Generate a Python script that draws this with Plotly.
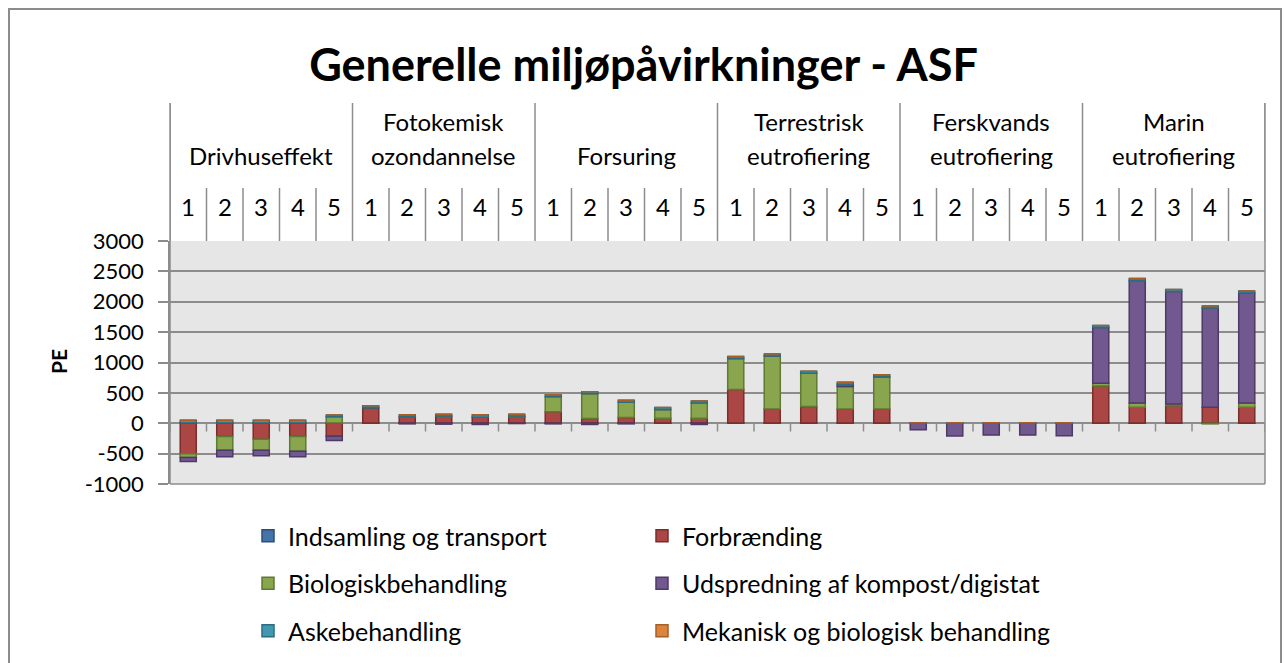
import plotly.graph_objects as go

# ---------------- data ----------------
groups = ["Drivhuseffekt", "Fotokemisk<br>ozondannelse", "Forsuring",
          "Terrestrisk<br>eutrofiering", "Ferskvands<br>eutrofiering", "Marin<br>eutrofiering"]
scenarios = ["1", "2", "3", "4", "5"]

indsamling = [5, 5, 5, 5, 5,   5, 5, 5, 5, 5,   5, 5, 5, 5, 5,
              5, 5, 5, 5, 5,   0, 0, 0, 0, 0,   5, 5, 5, 5, 5]
forbraending = [-500, -220, -265, -220, -215,   250, 100, 115, 95, 100,
                185, 75, 88, 77, 77,            549, 230, 269, 230, 230,
                0, 0, 0, 0, 0,                  609, 258, 285, 258, 258]
biologisk = [-65, -225, -180, -240, 100,   0, 0, 0, 0, 15,
             245, 405, 253, 143, 253,      510, 873, 549, 368, 532,
             0, 0, 0, 0, 0,                44, 71, 27, -10, 71]
udspredning = [-65, -105, -90, -90, -70,   0, -10, -15, -20, -5,
               -10, -20, -10, 0, -20,      0, 0, 0, 38, 0,
               -105, -210, -195, -195, -205, 917, 2015, 1850, 1636, 1812]
askebehandling = [45, 45, 45, 45, 30,   35, 35, 30, 40, 30,
                  33, 33, 33, 33, 33,   33, 33, 33, 33, 33,
                  8, 8, 8, 8, 8,        33, 33, 33, 33, 33]
mekanisk = [0] * 30

series = [
    ("Indsamling og transport", indsamling, "#4572A7", "#2E4E78"),
    ("Forbrænding", forbraending, "#AA4643", "#7A2E2C"),
    ("Biologiskbehandling", biologisk, "#89A54E", "#5F7A32"),
    ("Udspredning af kompost/digistat", udspredning, "#71588F", "#4D3A66"),
    ("Askebehandling", askebehandling, "#4198AF", "#2B6D80"),
    ("Mekanisk og biologisk behandling", mekanisk, "#DB843D", "#A85E25"),
]
y_ticks = [-1000, -500, 0, 500, 1000, 1500, 2000, 2500, 3000]
y_tick_labels = ["-1000", "-500", "0", "500", "1000", "1500", "2000", "2500", "3000"]

# ---------------- geometry helpers ----------------
W, H = 1287, 663
L, R, T, B = 170, 1265, 241, 484
n = len(groups) * len(scenarios)
xs = list(range(n))
FONT = "Lato"
GRID = "#8C8C8C"
HDR = 24


def py(p):  # pixel y -> paper y
    return (B - p) / (B - T)


def px(p):  # pixel x -> paper x
    return (p - L) / (R - L)


fig = go.Figure()
for i, (name, vals, col, lcol) in enumerate(series):
    fig.add_trace(go.Bar(
        x=xs, y=vals, name=name,
        marker=dict(color=col, line=dict(color=lcol, width=1.5)),
        width=0.44,
        legend="legend" if i % 2 == 0 else "legend2",
        legendgroup=name,
    ))

shapes = []
ann = []
# header separators
for k in range(n + 1):
    xb = k - 0.5
    y_top = py(103) if k % 5 == 0 else py(188)
    shapes.append(dict(type="line", xref="x", yref="paper", x0=xb, x1=xb,
                       y0=1, y1=y_top, line=dict(color=GRID, width=1.5)))
# zero-line tick marks
for k in range(n + 1):
    xb = k - 0.5
    shapes.append(dict(type="line", xref="x", yref="y", x0=xb, x1=xb,
                       y0=0, y1=-135, line=dict(color=GRID, width=1.5)))
# outer frame
shapes.append(dict(type="rect", xref="paper", yref="paper",
                   x0=px(9), x1=px(1281), y0=py(690), y1=py(9),
                   line=dict(color="#8C8C8C", width=2), fillcolor="rgba(0,0,0,0)",
                   layer="below"))

# header labels
for gi, g in enumerate(groups):
    xc = gi * 5 + 2
    lines = g.split("<br>")
    ys = [py(155)] if len(lines) == 1 else [py(122), py(155)]
    for line, yy in zip(lines, ys):
        ann.append(dict(x=xc, y=yy, xref="x", yref="paper", text=line,
                        xanchor="center", yanchor="middle",
                        showarrow=False, font=dict(size=HDR, color="#000", family=FONT)))
    for si, s in enumerate(scenarios):
        ann.append(dict(x=gi * 5 + si, y=py(206), xref="x", yref="paper", text=s,
                        xanchor="center", yanchor="middle",
                        showarrow=False, font=dict(size=HDR, color="#000", family=FONT)))

# y-axis title
ann.append(dict(x=px(58), y=py(362), xref="paper", yref="paper", text="<b>PE</b>",
                xanchor="center", yanchor="middle",
                textangle=-90, showarrow=False, font=dict(size=21, color="#000", family=FONT)))

fig.update_layout(
    width=W, height=H,
    margin=dict(l=L, r=W - R, t=T, b=H - B, autoexpand=False),
    paper_bgcolor="white",
    plot_bgcolor="#E6E6E6",
    barmode="relative",
    title=dict(text="<b>Generelle miljøpåvirkninger - ASF</b>", x=0.5, xanchor="center",
               y=1 - 65 / H, yanchor="middle",
               font=dict(size=45, color="#000", family=FONT)),
    font=dict(family=FONT, color="#000"),
    xaxis=dict(range=[-0.5, n - 0.5], showticklabels=False, showgrid=False,
               zeroline=False, ticks="", fixedrange=True),
    yaxis=dict(range=[-1000, 3000], tickvals=y_ticks, ticktext=y_tick_labels,
               ticks="outside", ticklen=10,
               tickcolor=GRID, tickwidth=1.5, showgrid=True, gridcolor=GRID, gridwidth=1.5,
               zeroline=True, zerolinecolor=GRID, zerolinewidth=1.5,
               showline=True, linecolor=GRID, linewidth=1.5,
               tickfont=dict(size=22, color="#000", family=FONT),
               ticklabelstandoff=10),
    shapes=shapes,
    annotations=ann,
    legend=dict(xref="container", yref="container", x=248 / W, y=1 - 513 / H,
                xanchor="left", yanchor="top",
                orientation="v", tracegroupgap=12, bgcolor="rgba(0,0,0,0)",
                font=dict(size=25, family=FONT, color="#000")),
    legend2=dict(xref="container", yref="container", x=642 / W, y=1 - 513 / H,
                 xanchor="left", yanchor="top",
                 orientation="v", tracegroupgap=12, bgcolor="rgba(0,0,0,0)",
                 font=dict(size=25, family=FONT, color="#000")),
    bargap=0.56,
)
fig.add_shape(type="line", xref="paper", yref="paper", x0=1, x1=1, y0=0, y1=py(103),
              line=dict(color=GRID, width=1.5))
fig.add_shape(type="line", xref="paper", yref="paper", x0=0, x1=0, y0=0, y1=py(103),
              line=dict(color=GRID, width=1.5))
fig.add_shape(type="line", xref="paper", yref="paper", x0=0, x1=1, y0=0, y1=0,
              line=dict(color=GRID, width=1.5))

fig.write_html("out.html", config={"displayModeBar": False},
               post_script="document.body.style.margin='0';document.body.style.overflow='hidden';")
